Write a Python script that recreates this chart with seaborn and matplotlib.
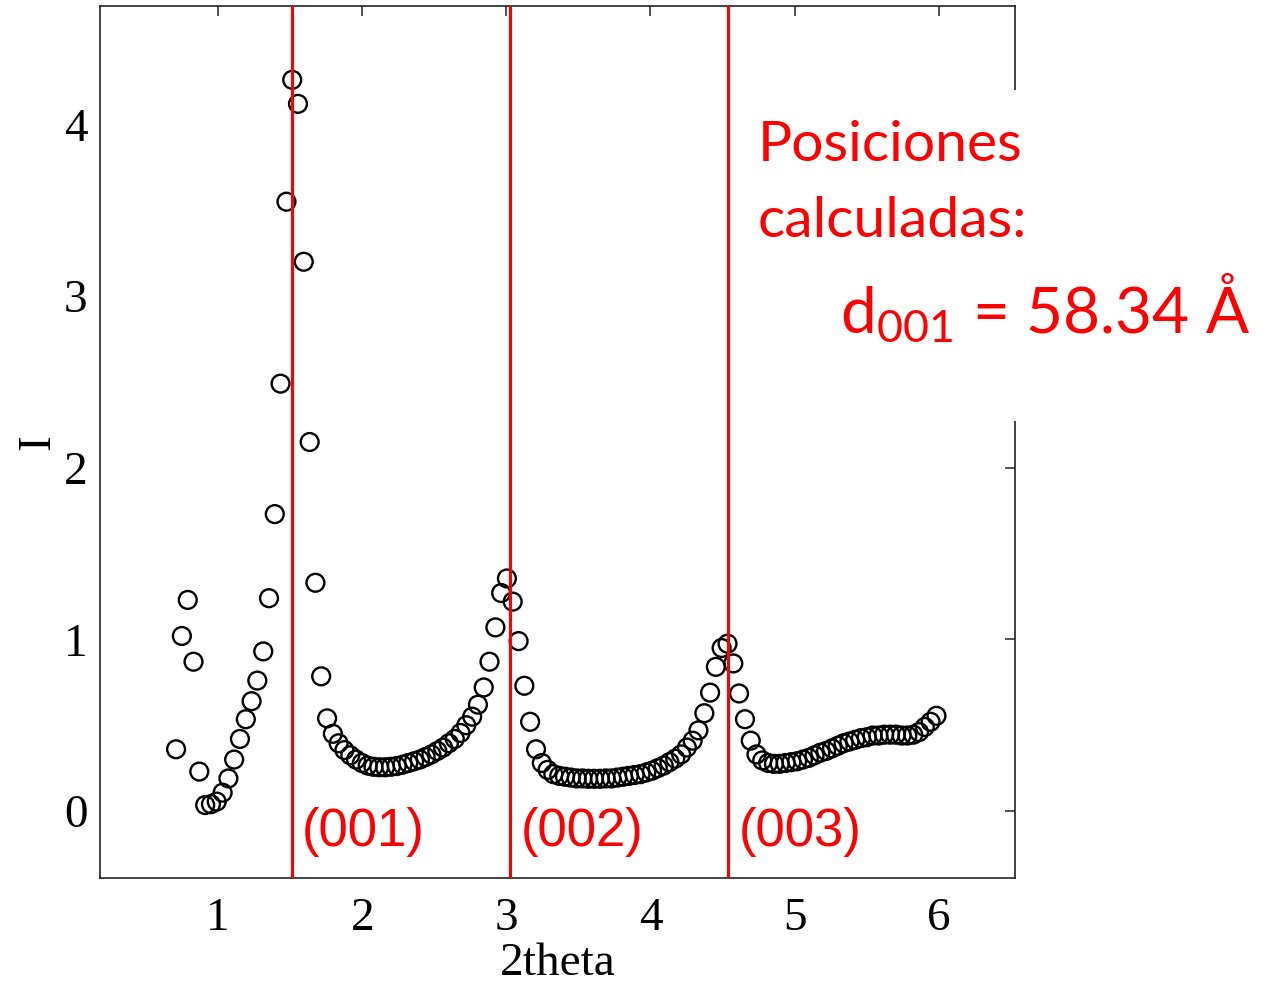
import matplotlib
matplotlib.use("Agg")
import matplotlib.pyplot as plt
from matplotlib.patches import Rectangle
import pandas as pd
import seaborn as sns

# Scan angle 2theta (degrees)
two_theta = [
    0.708, 0.748, 0.789, 0.829, 0.869, 0.910, 0.950, 0.990, 1.031, 1.071,
    1.111, 1.151, 1.192, 1.232, 1.272, 1.313, 1.353, 1.393, 1.433, 1.474,
    1.514, 1.554, 1.594, 1.635, 1.675, 1.715, 1.756, 1.796, 1.836, 1.876,
    1.917, 1.957, 1.997, 2.038, 2.078, 2.118, 2.158, 2.199, 2.239, 2.279,
    2.319, 2.360, 2.400, 2.440, 2.480, 2.521, 2.561, 2.601, 2.642, 2.682,
    2.722, 2.763, 2.803, 2.843, 2.883, 2.924, 2.964, 3.004, 3.044, 3.085,
    3.125, 3.165, 3.206, 3.246, 3.286, 3.326, 3.367, 3.407, 3.447, 3.488,
    3.528, 3.568, 3.608, 3.649, 3.689, 3.729, 3.770, 3.810, 3.850, 3.890,
    3.931, 3.971, 4.011, 4.051, 4.092, 4.132, 4.172, 4.213, 4.253, 4.293,
    4.333, 4.374, 4.414, 4.454, 4.494, 4.535, 4.575, 4.615, 4.656, 4.696,
    4.736, 4.776, 4.817, 4.857, 4.897, 4.938, 4.978, 5.018, 5.058, 5.099,
    5.139, 5.179, 5.219, 5.260, 5.300, 5.340, 5.381, 5.421, 5.461, 5.501,
    5.542, 5.582, 5.622, 5.663, 5.703, 5.743, 5.783, 5.824, 5.864, 5.904,
    5.944, 5.985,
]

# Measured intensity I
intensity = [
    0.36, 1.02, 1.23, 0.87, 0.23, 0.035, 0.04, 0.055, 0.107, 0.19,
    0.30, 0.42, 0.535, 0.64, 0.76, 0.93, 1.24, 1.73, 2.49, 3.55,
    4.26, 4.12, 3.20, 2.15, 1.33, 0.785, 0.54, 0.45, 0.395, 0.355,
    0.325, 0.30, 0.28, 0.265, 0.258, 0.255, 0.255, 0.258, 0.262, 0.27,
    0.28, 0.29, 0.30, 0.315, 0.33, 0.35, 0.37, 0.395, 0.42, 0.455,
    0.50, 0.55, 0.62, 0.72, 0.87, 1.07, 1.27, 1.355, 1.22, 0.99,
    0.73, 0.52, 0.36, 0.28, 0.24, 0.215, 0.205, 0.20, 0.195, 0.19,
    0.19, 0.188, 0.188, 0.188, 0.19, 0.19, 0.195, 0.20, 0.205, 0.21,
    0.215, 0.225, 0.235, 0.25, 0.265, 0.285, 0.305, 0.33, 0.37, 0.41,
    0.47, 0.57, 0.69, 0.84, 0.95, 0.975, 0.86, 0.685, 0.535, 0.41,
    0.33, 0.295, 0.28, 0.275, 0.275, 0.28, 0.285, 0.29, 0.30, 0.31,
    0.325, 0.34, 0.35, 0.365, 0.38, 0.395, 0.405, 0.415, 0.425, 0.43,
    0.44, 0.44, 0.445, 0.445, 0.445, 0.44, 0.44, 0.445, 0.46, 0.49,
    0.52, 0.555,
]

# Calculated (00l) reflection positions for d001 = 58.34 Å
peak_positions = [1.513, 3.027, 4.541]
peak_labels = ["(001)", "(002)", "(003)"]

x_ticks = [1, 2, 3, 4, 5, 6]
y_ticks = [0, 1, 2, 3, 4]

df = pd.DataFrame({"2theta": two_theta, "I": intensity})

sns.set_theme(style="white")
plt.rcParams["font.family"] = ["Liberation Serif", "DejaVu Serif"]
plt.rcParams["text.color"] = "black"
plt.rcParams["axes.labelcolor"] = "black"
plt.rcParams["xtick.color"] = "black"
plt.rcParams["ytick.color"] = "black"
plt.rcParams["mathtext.default"] = "regular"

fig = plt.figure(figsize=(12.71, 9.83), dpi=100)
ax = fig.add_axes([100 / 1271, 1 - 878 / 983, 915 / 1271, 872 / 983])

sns.scatterplot(data=df, x="2theta", y="I", ax=ax, marker="o", s=165,
                fc="none", ec="black", linewidth=1.7, zorder=2)

for pos, lab in zip(peak_positions, peak_labels):
    ax.axvline(pos, color="#ff0000", lw=2.2, zorder=3)
    ax.text(pos + 0.07, -0.12, lab, color="#ff0000", fontsize=38,
            family=["Liberation Sans", "DejaVu Sans"], ha="left", va="center",
            zorder=4)

ax.set_xlim(0.18, 6.53)
ax.set_ylim(-0.39, 4.69)
ax.set_xticks(x_ticks)
ax.set_yticks(y_ticks)
ax.tick_params(direction="in", top=True, right=True, length=7, width=1.1,
               labelsize=34, color="#222222", labelcolor="black")
ax.tick_params(axis="x", pad=14)
ax.tick_params(axis="y", pad=9)
for sp in ax.spines.values():
    sp.set_color("#222222")
    sp.set_linewidth(1.2)

ax.set_xlabel("2theta", fontsize=34, labelpad=2, color="black")
ax.set_ylabel("I", fontsize=34, labelpad=3, color="black")

# Annotation panel on the right
fig.add_artist(Rectangle((745 / 1271, 1 - 421 / 983), 526 / 1271, 331 / 983,
                         transform=fig.transFigure, facecolor="white",
                         edgecolor="none", zorder=5))

sans = ["Lato", "DejaVu Sans"]
fig.text(758 / 1271, 1 - 161 / 983, "Posiciones", color="#ff0000",
         fontsize=41, family=sans, ha="left", va="baseline", zorder=6)
fig.text(758 / 1271, 1 - 237 / 983, "calculadas:", color="#ff0000",
         fontsize=41, family=sans, ha="left", va="baseline", zorder=6)
fig.text(840 / 1271, 1 - 333 / 983, r"d$_{001}$ = 58.34 Å", color="#ff0000",
         fontsize=46, family=sans, ha="left", va="baseline", zorder=6)

fig.savefig("out.png", dpi=100)
